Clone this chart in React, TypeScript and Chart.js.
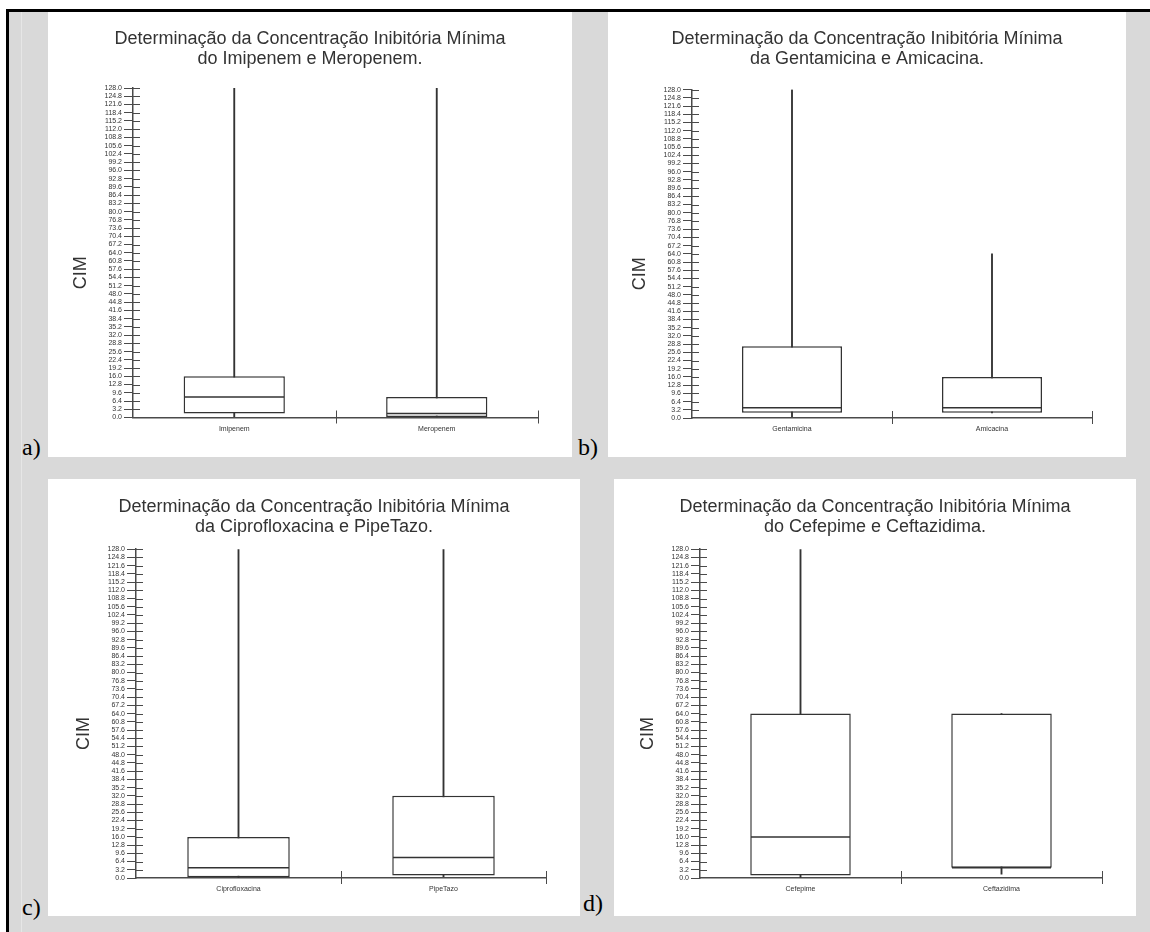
import React, { useEffect, useRef } from 'react';
import { Chart, registerables } from 'chart.js';

Chart.register(...registerables);

// ---------- data ----------
const TITLE_LINE_1 = 'Determinação da Concentração Inibitória Mínima';
const Y_LABEL = 'CIM';
const Y_MIN = 0;
const Y_MAX = 128;
const Y_STEP = 3.2;

const TITLE_A = 'do Imipenem e Meropenem.';
const CATS_A = ['Imipenem', 'Meropenem'];
const MIN_A = [0.3, 0];
const Q1_A = [1.6, 0.2];
const MED_A = [8, 1.6];
const Q3_A = [16, 8];
const MAX_A = [128, 128];

const TITLE_B = 'da Gentamicina e Amicacina.';
const CATS_B = ['Gentamicina', 'Amicacina'];
const MIN_B = [0.5, 2];
const Q1_B = [2, 2];
const MED_B = [4, 4];
const Q3_B = [28, 16];
const MAX_B = [128, 64];

const TITLE_C = 'da Ciprofloxacina e PipeTazo.';
const CATS_C = ['Ciprofloxacina', 'PipeTazo'];
const MIN_C = [0.2, 0.5];
const Q1_C = [0.25, 1];
const MED_C = [4, 8];
const Q3_C = [16, 32];
const MAX_C = [128, 128];

const TITLE_D = 'do Cefepime e Ceftazidima.';
const CATS_D = ['Cefepime', 'Ceftazidima'];
const MIN_D = [0, 1.5];
const Q1_D = [1, 4];
const MED_D = [16, 4];
const Q3_D = [64, 64];
const MAX_D = [128, 64];

// ---------- style ----------
const TEXT = '#333333';
const LINE = '#333333';
const AXIS = '#4a4a4a';
const GRAY = '#d9d9d9';
const SANS = '"Liberation Sans", Arial, sans-serif';

const crossTicks = {
  id: 'crossTicks',
  afterDraw(chart: any) {
    const { ctx } = chart;
    const x = chart.scales.x;
    const y = chart.scales.y;
    ctx.save();
    ctx.strokeStyle = AXIS;
    ctx.lineWidth = 1;
    ctx.beginPath();
    y.ticks.forEach((_t: any, i: number) => {
      if (i === 0) return;
      const py = Math.round(y.getPixelForTick(i)) + 0.5;
      ctx.moveTo(y.right, py);
      ctx.lineTo(y.right + 7, py);
    });
    const n = chart.data.labels.length;
    const w = (x.right - x.left) / n;
    for (let i = 1; i <= n; i++) {
      const px = Math.round(x.left + i * w) + 0.5;
      ctx.moveTo(px, x.top - 7);
      ctx.lineTo(px, x.top + 6);
    }
    ctx.stroke();
    ctx.restore();
  },
};

const yTitle = {
  id: 'yTitle',
  afterDraw(chart: any, _args: any, opts: any) {
    const { ctx, chartArea } = chart;
    ctx.save();
    ctx.translate(chartArea.left - opts.dx, (chartArea.top + chartArea.bottom) / 2 + opts.dy);
    ctx.rotate(-Math.PI / 2);
    ctx.font = `18px ${SANS}`;
    ctx.fillStyle = TEXT;
    ctx.textAlign = 'center';
    ctx.textBaseline = 'middle';
    ctx.fillText(opts.text, 0, 0);
    ctx.restore();
  },
};

type Layout = {
  left: number; top: number; w: number; h: number;
  side: number; yW: number; titleTop: number; titleBottom: number; xH: number;
};

function BoxChart(props: {
  title2: string; cats: string[]; mins: number[]; q1s: number[]; meds: number[];
  q3s: number[]; maxs: number[]; lay: Layout;
}) {
  const ref = useRef<HTMLCanvasElement>(null);
  const { title2, cats, mins, q1s, meds, q3s, maxs, lay } = props;
  useEffect(() => {
    const chart = new Chart(ref.current as HTMLCanvasElement, {
      type: 'bar',
      data: {
        labels: cats,
        datasets: [
          {
            type: 'bar',
            data: cats.map((_c, i) => [mins[i], maxs[i]]) as any,
            backgroundColor: LINE,
            borderWidth: 0,
            barThickness: 1.2,
            grouped: false,
            order: 3,
          } as any,
          {
            type: 'bar',
            data: cats.map((_c, i) => [q1s[i], q3s[i]]) as any,
            backgroundColor: '#ffffff',
            borderColor: LINE,
            borderWidth: 1.5,
            borderSkipped: false,
            barPercentage: 0.5,
            categoryPercentage: 1,
            grouped: false,
            order: 2,
          } as any,
          {
            type: 'line',
            data: meds,
            showLine: false,
            pointStyle: 'line',
            pointRadius: (c: any) => {
              const a = c.chart.chartArea;
              return a ? (a.right - a.left) / cats.length / 4 - 0.75 : 0;
            },
            pointBorderColor: LINE,
            pointBorderWidth: 1.5,
            order: 1,
          } as any,
        ],
      },
      options: {
        animation: false,
        responsive: false,
        devicePixelRatio: 1,
        events: [],
        layout: { padding: { left: lay.side, right: lay.side, top: 0, bottom: 0 } },
        plugins: {
          legend: { display: false },
          tooltip: { enabled: false },
          title: {
            display: true,
            text: [TITLE_LINE_1, title2],
            color: TEXT,
            font: { family: SANS, size: 18, weight: 'normal', lineHeight: 1.1 },
            padding: { top: lay.titleTop, bottom: lay.titleBottom },
          },
          yTitle: { text: Y_LABEL, dx: 52, dy: 20 },
        } as any,
        scales: {
          x: {
            type: 'category',
            offset: true,
            grid: { display: false, drawTicks: false },
            border: { display: true, color: AXIS, width: 1.5 },
            ticks: { color: TEXT, font: { family: SANS, size: 7 }, padding: 7, maxRotation: 0, autoSkip: false },
            afterFit: (s: any) => { s.height = lay.xH; },
          },
          y: {
            min: Y_MIN,
            max: Y_MAX,
            ticks: {
              stepSize: Y_STEP,
              autoSkip: false,
              color: TEXT,
              font: { family: SANS, size: 7, lineHeight: 1 },
              padding: 2,
              callback: (v: any) => Number(v).toFixed(1),
            },
            grid: { drawOnChartArea: false, drawTicks: true, tickLength: 9, color: AXIS, lineWidth: 1 },
            border: { display: true, color: AXIS, width: 1.5 },
            afterFit: (s: any) => { s.width = lay.yW; },
          },
        },
      } as any,
      plugins: [crossTicks, yTitle] as any,
    });
    return () => chart.destroy();
  }, []);
  return (
    <canvas
      ref={ref}
      width={lay.w}
      height={lay.h}
      style={{ position: 'absolute', left: lay.left, top: lay.top, width: lay.w, height: lay.h, background: '#fff' }}
    />
  );
}

const LAY_A: Layout = { left: 48, top: 12, w: 524, h: 445, side: 34, yW: 51, titleTop: 17, titleBottom: 19.4, xH: 39.5 };
const LAY_B: Layout = { left: 608, top: 12, w: 518, h: 445, side: 34, yW: 50, titleTop: 17, titleBottom: 21, xH: 39 };
const LAY_C: Layout = { left: 48, top: 479, w: 532, h: 437, side: 34, yW: 54, titleTop: 18, titleBottom: 12.6, xH: 38 };
const LAY_D: Layout = { left: 614, top: 479, w: 522, h: 437, side: 34, yW: 52, titleTop: 18, titleBottom: 12.6, xH: 38 };

const labelStyle = (left: number, top: number): React.CSSProperties => ({
  position: 'absolute', left, top, font: '24px "Liberation Serif", "Times New Roman", serif', lineHeight: '24px', color: '#000',
});

export default function App() {
  return (
    <div style={{ position: 'absolute', left: 0, top: 0, width: 1150, height: 932, background: '#fff', overflow: 'hidden' }}>
      <div style={{ position: 'absolute', left: 6, top: 9, width: 1144, height: 923, background: '#000' }} />
      <div style={{ position: 'absolute', left: 9, top: 12, width: 1141, height: 920, background: GRAY }} />
      <div style={{ position: 'absolute', left: 21, top: 12, width: 1, height: 920, background: '#e6e6e6' }} />
      <BoxChart title2={TITLE_A} cats={CATS_A} mins={MIN_A} q1s={Q1_A} meds={MED_A} q3s={Q3_A} maxs={MAX_A} lay={LAY_A} />
      <BoxChart title2={TITLE_B} cats={CATS_B} mins={MIN_B} q1s={Q1_B} meds={MED_B} q3s={Q3_B} maxs={MAX_B} lay={LAY_B} />
      <BoxChart title2={TITLE_C} cats={CATS_C} mins={MIN_C} q1s={Q1_C} meds={MED_C} q3s={Q3_C} maxs={MAX_C} lay={LAY_C} />
      <BoxChart title2={TITLE_D} cats={CATS_D} mins={MIN_D} q1s={Q1_D} meds={MED_D} q3s={Q3_D} maxs={MAX_D} lay={LAY_D} />
      <div style={labelStyle(22, 435)}>a)</div>
      <div style={labelStyle(578, 435)}>b)</div>
      <div style={labelStyle(22, 895)}>c)</div>
      <div style={labelStyle(583, 891)}>d)</div>
    </div>
  );
}
